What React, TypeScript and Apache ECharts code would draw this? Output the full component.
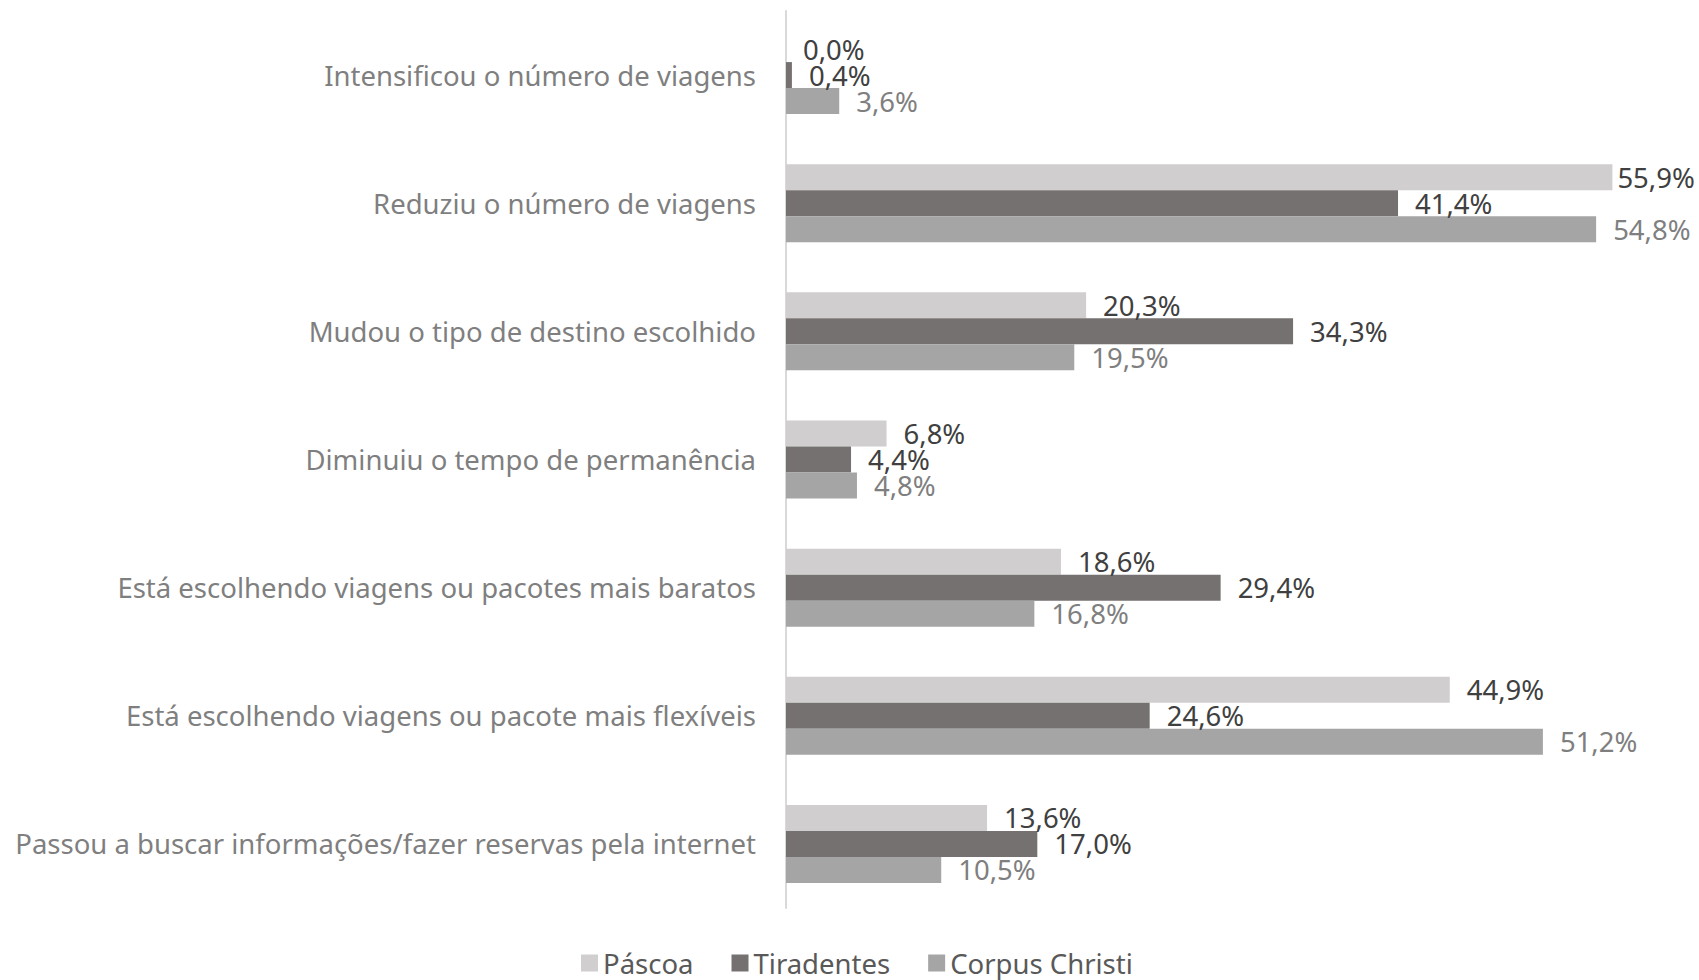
import React, { useEffect, useRef } from "react";
import * as echarts from "echarts";

const categories = [
  "Intensificou o número de viagens",
  "Reduziu o número de viagens",
  "Mudou o tipo de destino escolhido",
  "Diminuiu o tempo de permanência",
  "Está escolhendo viagens ou pacotes mais baratos",
  "Está escolhendo viagens ou pacote mais flexíveis",
  "Passou a buscar informações/fazer reservas pela internet",
];
const pascoa = [0.0, 55.9, 20.3, 6.8, 18.6, 44.9, 13.6];
const tiradentes = [0.4, 41.4, 34.3, 4.4, 29.4, 24.6, 17.0];
const corpusChristi = [3.6, 54.8, 19.5, 4.8, 16.8, 51.2, 10.5];
const seriesNames = ["Páscoa", "Tiradentes", "Corpus Christi"];

const FONT = "'Noto Sans', sans-serif";
const FS = 27.5;
const fmt = (v: number) => v.toFixed(1).replace(".", ",") + "%";

export default function App() {
  const ref = useRef<HTMLDivElement>(null);
  useEffect(() => {
    if (!ref.current) return;
    const chart = echarts.init(ref.current, undefined, { renderer: "svg" });
    const mk = (name: string, data: number[], color: string, labelColor: string) => ({
      name,
      type: "bar",
      data: data.map((v) =>
        v > 55 ? { value: v, label: { distance: 5 } } : { value: v }
      ),
      barWidth: 26,
      barGap: "0%",
      itemStyle: { color },
      label: {
        show: true,
        position: "right",
        distance: 17,
        color: labelColor,
        fontSize: FS,
        fontFamily: FONT,
        formatter: (p: any) => fmt(p.value),
      },
    });
    chart.setOption({
      animation: false,
      grid: { left: 786, top: 11, bottom: 72, right: 26, containLabel: false },
      legend: {
        bottom: -2,
        left: 576,
        itemWidth: 17,
        itemHeight: 17,
        itemGap: 38,
        icon: "rect",
        textStyle: { color: "#595959", fontSize: FS, fontFamily: FONT },
        data: seriesNames,
      },
      xAxis: {
        type: "value",
        min: 0,
        max: 60,
        show: false,
        splitLine: { show: false },
      },
      yAxis: {
        type: "category",
        data: categories,
        inverse: true,
        axisLine: { show: true, lineStyle: { color: "#d9d9d9", width: 2 } },
        axisTick: { show: false },
        axisLabel: {
          color: "#7f7f7f",
          fontSize: FS,
          fontFamily: FONT,
          margin: 30,
        },
      },
      series: [
        mk(seriesNames[0], pascoa, "#d0cece", "#404040"),
        mk(seriesNames[1], tiradentes, "#767171", "#404040"),
        mk(seriesNames[2], corpusChristi, "#a5a5a5", "#7f7f7f"),
      ],
    });
    return () => chart.dispose();
  }, []);
  return (
    <div
      ref={ref}
      style={{ position: "fixed", left: 0, top: 0, width: 1699, height: 980, background: "#fff" }}
    />
  );
}
